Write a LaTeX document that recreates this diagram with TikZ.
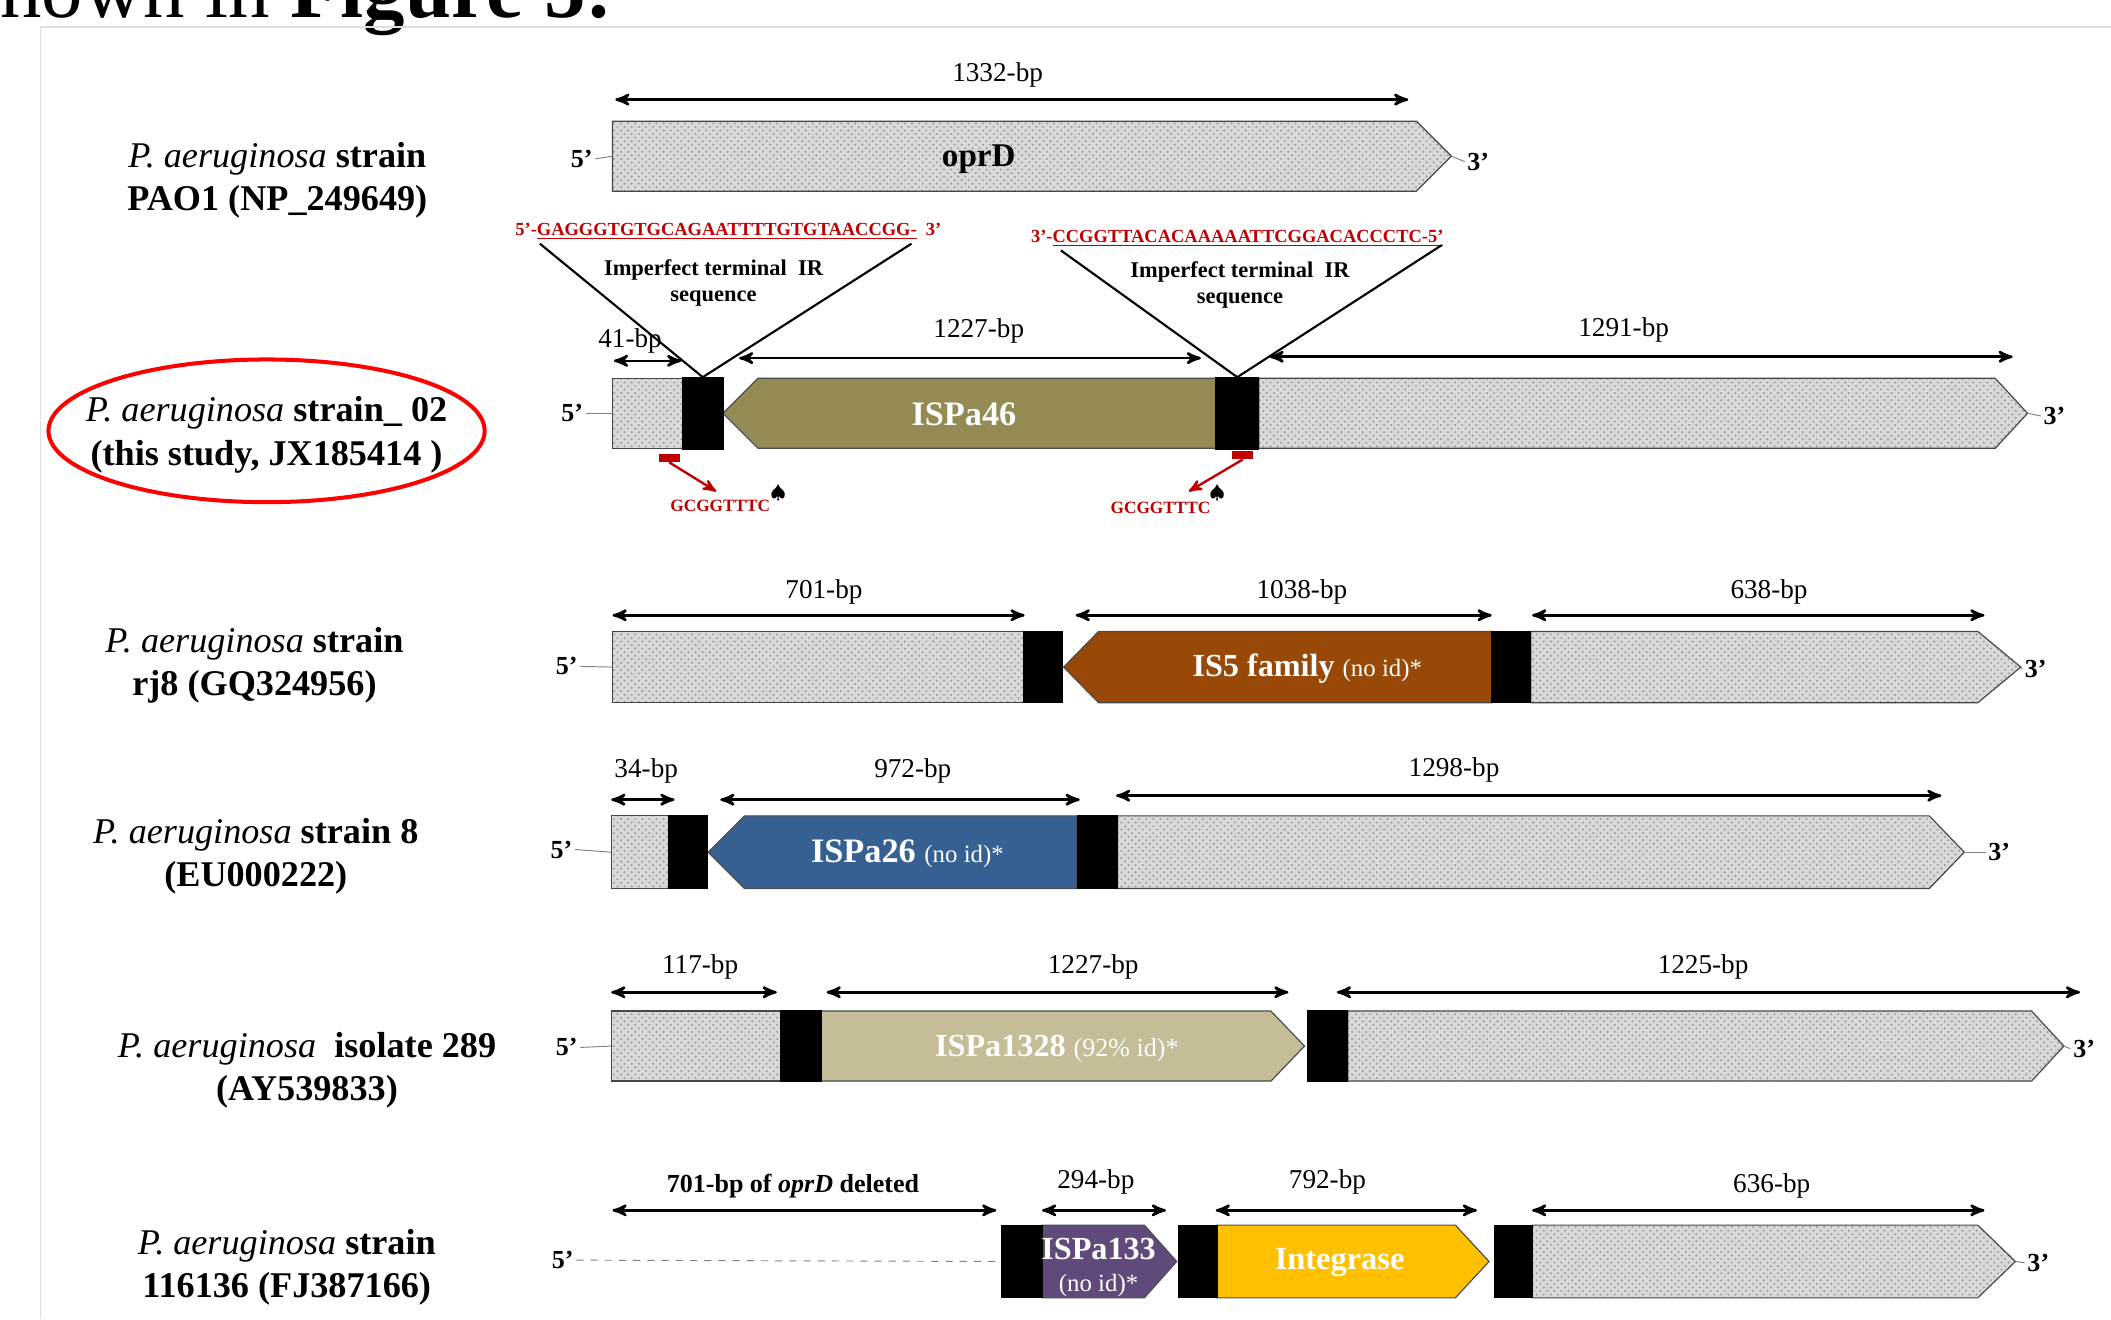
\documentclass[tikz,border=0pt]{standalone}
\usepackage{fontspec}
\setmainfont{Liberation Serif}
\usepackage{amssymb}
\usetikzlibrary{arrows,patterns,shapes.geometric}
\definecolor{isolive}{HTML}{948A54}
\definecolor{isbrown}{HTML}{984807}
\definecolor{isblue}{HTML}{366092}
\definecolor{istan}{HTML}{C4BD97}
\definecolor{ispurple}{HTML}{604A7B}
\definecolor{isyellow}{HTML}{FFC000}
\definecolor{seqred}{HTML}{C00000}

\begin{document}
\begin{tikzpicture}[x=0.2mm,y=-0.2mm,
  hatch/.style={draw=gray!55!black, line width=0.5pt, preaction={fill=gray!30}, pattern=crosshatch dots, pattern color=gray!75},
  isbox/.style={draw=black!70, line width=0.5pt},
  ir/.style={rectangle, fill=black, draw=black, inner sep=0pt, minimum width=6mm, minimum height=10.6mm},
  dim/.style={<->, >=stealth', line width=1.1pt},
  bp/.style={inner sep=1pt, font=\fontsize{11.5}{13}\selectfont},
  primeend/.style={inner sep=1pt, font=\fontsize{11}{13}\selectfont\bfseries},
  strain/.style={align=center, inner sep=1pt, font=\fontsize{15.3}{18.2}\selectfont},
  isname/.style={text=white, inner sep=1pt, font=\fontsize{14}{16}\selectfont\bfseries},
  seq/.style={text=seqred, inner sep=1pt, font=\fontsize{7.8}{9}\selectfont\bfseries},
  irtext/.style={align=center, inner sep=1pt, font=\fontsize{9.5}{11}\selectfont\bfseries},
  sitemark/.style={rectangle, fill=seqred, inner sep=0pt, minimum width=3.1mm, minimum height=1.2mm},
  site/.style={text=seqred, inner sep=1pt, font=\fontsize{7.3}{9}\selectfont\bfseries}]

\useasboundingbox (0,0) rectangle (1568,980);
\clip (0,0) rectangle (1568,980);

\node[anchor=base west, inner sep=0pt, font=\fontsize{35}{40}\selectfont] (title) at (0,13) {nown in \textbf{Figure 5:}};
\draw[gray!25, line width=0.6pt] (30,980) -- (30,20) -- (1568,20);

\node[strain] (n1) at (206,134) {\textit{P. aeruginosa} \textbf{strain}\\ \textbf{PAO1 (NP\_249649)}};
\node[strain] (n2) at (198,323) {\textit{P. aeruginosa} \textbf{strain\_ 02}\\ \textbf{(this study, JX185414 )}};
\draw[red, line width=1.7pt] (198,320) ellipse [x radius=32.4mm, y radius=10.6mm];
\node[strain] (n3) at (189,494) {\textit{P. aeruginosa} \textbf{strain}\\ \textbf{rj8 (GQ324956)}};
\node[strain] (n4) at (190,636) {\textit{P. aeruginosa} \textbf{strain 8}\\ \textbf{(EU000222)}};
\node[strain] (n5) at (228,795) {\textit{P. aeruginosa}\ \ \textbf{isolate 289}\\ \textbf{(AY539833)}};
\node[strain] (n6) at (213,941) {\textit{P. aeruginosa} \textbf{strain}\\ \textbf{116136 (FJ387166)}};

% PAO1
\draw[hatch] (455,90) -- (1052,90) -- (1078,116) -- (1052,142) -- (455,142) -- cycle;
\node[font=\fontsize{14}{16}\selectfont\bfseries] (oprd) at (727,118) {oprD};
\node[primeend] (f1) at (432,118) {5’};
\node[primeend] (t1) at (1098,120) {3’};
\draw[gray] (f1.east) -- (455,116);
\draw[gray] (1078,116) -- (t1.west);
\draw[dim] (457,74) -- (1046,74);
\node[bp] (l1) at (741,56) {1332-bp};

% strain_02
\draw[hatch] (455,281) rectangle (507,333);
\draw[isbox, fill=isolive] (537,307) -- (563,281) -- (903,281) -- (903,333) -- (563,333) -- cycle;
\draw[hatch] (935,281) -- (1482,281) -- (1506,307) -- (1482,333) -- (935,333) -- cycle;
\node[ir] (a1) at (522,307) {};
\node[ir, minimum width=6.4mm] (a2) at (919,307) {};
\node[isname, font=\fontsize{14.5}{16}\selectfont\bfseries] (is46) at (716,308) {ISPa46};
\node[primeend] (f2) at (425,307) {5’};
\node[primeend] (t2) at (1526,309) {3’};
\draw[gray] (f2.east) -- (455,307);
\draw[gray] (1506,307) -- (t2.west);
\draw[dim] (456,268) -- (506,268);
\node[bp] (l21) at (468,253) {41-bp};
\draw[dim] (549,266) -- (892,266);
\node[bp] (l22) at (727,246) {1227-bp};
\draw[dim] (943,265) -- (1495,265);
\node[bp] (l23) at (1206,245) {1291-bp};

\node[seq] (s1) at (541,172) {5’-\underline{GAGGGTGTGCAGAATTTTGTGTAACCGG-}\ \ 3’};
\node[seq] (s2) at (919,177) {3’-\underline{CCGGTTACACAAAAATTCGGACACCCTC-5’}};
\draw[line width=0.9pt] (401,181) -- (a1.north) -- (677,181);
\draw[line width=0.9pt] (788,186) -- (a2.north) -- (1071,182);
\node[irtext] (ir1) at (530,210) {Imperfect terminal\ \ IR\\ sequence};
\node[irtext] (ir2) at (921,212) {Imperfect terminal\ \ IR\\ sequence};

\node[sitemark] (m1) at (497,340) {};
\node[sitemark] (m2) at (923,338) {};
\node[site] (g1) at (535,376) {GCGGTTTC};
\node[site] (g2) at (862,377) {GCGGTTTC};
\node[inner sep=0pt, font=\fontsize{8}{9}\selectfont] (sp1) at (578,366) {$\spadesuit$};
\node[inner sep=0pt, font=\fontsize{8}{9}\selectfont] (sp2) at (904,366) {$\spadesuit$};
\coordinate (e1) at (532,365);
\coordinate (e2) at (883,365);
\draw[->, >=stealth', seqred, line width=1pt] (m1.south) -- (e1);
\draw[->, >=stealth', seqred, line width=1pt] (m2.south) -- (e2);

% rj8
\draw[hatch] (455,469) rectangle (761,522);
\draw[isbox, fill=isbrown] (790,495.5) -- (816,469) -- (1108,469) -- (1108,522) -- (816,522) -- cycle;
\draw[hatch] (1137,469) -- (1469,469) -- (1501,495.5) -- (1469,522) -- (1137,522) -- cycle;
\node[ir, minimum width=5.8mm] (b1) at (775,495.5) {};
\node[ir, minimum width=5.8mm] (b2) at (1122.5,495.5) {};
\node[isname] (is5) at (971,497) {\fontsize{13.6}{16}\selectfont IS5 family \fontsize{10.5}{12}\selectfont\mdseries(no id)*};
\node[primeend] (f3) at (421,495) {5’};
\node[primeend] (t3) at (1512,497) {3’};
\draw[gray] (f3.east) -- (455,495.5);
\draw[gray] (1501,495.5) -- (t3.west);
\draw[dim] (455,457) -- (761,457);
\node[bp] (l31) at (612,440) {701-bp};
\draw[dim] (799,457) -- (1108,457);
\node[bp] (l32) at (967,440) {1038-bp};
\draw[dim] (1138,457) -- (1474,457);
\node[bp] (l33) at (1314,440) {638-bp};

% strain 8
\draw[hatch] (454,606) rectangle (497,660);
\draw[isbox, fill=isblue] (526,633) -- (553,606) -- (800,606) -- (800,660) -- (553,660) -- cycle;
\draw[hatch] (830,606) -- (1433,606) -- (1459,633) -- (1433,660) -- (830,660) -- cycle;
\node[ir, minimum width=5.8mm, minimum height=10.8mm] (c1) at (511,633) {};
\node[ir, minimum height=10.8mm] (c2) at (815,633) {};
\node[isname] (is26) at (674,634) {\fontsize{14.5}{16}\selectfont ISPa26 \fontsize{10.5}{12}\selectfont\mdseries(no id)*};
\node[primeend] (f4) at (417,631) {5’};
\node[primeend] (t4) at (1485,633) {3’};
\draw[gray] (f4.east) -- (454,633);
\draw[gray] (1459,633) -- (t4.west);
\draw[dim] (454,594) -- (501,594);
\node[bp] (l41) at (480,573) {34-bp};
\draw[dim] (535,594) -- (802,594);
\node[bp] (l42) at (678,573) {972-bp};
\draw[dim] (829,591) -- (1442,591);
\node[bp] (l43) at (1080,572) {1298-bp};

% isolate 289
\draw[hatch] (454,751) rectangle (580,803);
\draw[isbox, fill=istan] (610,751) -- (944,751) -- (969,777) -- (944,803) -- (610,803) -- cycle;
\draw[hatch] (1001,751) -- (1509,751) -- (1533,777) -- (1509,803) -- (1001,803) -- cycle;
\node[ir] (d1) at (595,777) {};
\node[ir] (d2) at (986,777) {};
\node[isname] (is1328) at (785,779) {\fontsize{13.6}{16}\selectfont ISPa1328 \fontsize{11}{12}\selectfont\mdseries(92\% id)*};
\node[primeend] (f5) at (421,778) {5’};
\node[primeend] (t5) at (1548,779) {3’};
\draw[gray] (f5.east) -- (454,777);
\draw[gray] (1533,777) -- (t5.west);
\draw[dim] (454,737) -- (577,737);
\node[bp] (l51) at (520,718) {117-bp};
\draw[dim] (614,737) -- (957,737);
\node[bp] (l52) at (812,718) {1227-bp};
\draw[dim] (993,737) -- (1545,737);
\node[bp] (l53) at (1265,718) {1225-bp};

% 116136
\draw[isbox, fill=ispurple] (774,910) -- (850,910) -- (874,937) -- (850,964) -- (774,964) -- cycle;
\draw[isbox, fill=isyellow] (904,910) -- (1081,910) -- (1106,937) -- (1081,964) -- (904,964) -- cycle;
\draw[hatch] (1138,910) -- (1469,910) -- (1497,937) -- (1469,964) -- (1138,964) -- cycle;
\node[ir, minimum height=10.8mm] (k1) at (759,937) {};
\node[ir, minimum width=5.8mm, minimum height=10.8mm] (k2) at (890,937) {};
\node[ir, minimum width=5.6mm, minimum height=10.8mm] (k3) at (1124,937) {};
\node[isname, font=\fontsize{13.6}{16}\selectfont\bfseries] (is133) at (816,928) {ISPa133};
\node[text=white, inner sep=1pt, font=\fontsize{10.5}{12}\selectfont] (noid) at (816,955) {(no id)*};
\node[isname, font=\fontsize{13.7}{16}\selectfont\bfseries] (int) at (995,938) {Integrase};
\node[primeend] (f6) at (418,936) {5’};
\node[primeend] (t6) at (1514,938) {3’};
\draw[gray, dashed] (f6.east) -- (k1.west);
\draw[gray] (1497,937) -- (t6.west);
\draw[dim] (455,899) -- (740,899);
\node[bp, font=\fontsize{11}{13}\selectfont\bfseries] (l61) at (589,881) {701-bp of \textit{oprD} deleted};
\draw[dim] (774,899) -- (866,899);
\node[bp] (l62) at (814,878) {294-bp};
\draw[dim] (903,899) -- (1097,899);
\node[bp] (l63) at (986,878) {792-bp};
\draw[dim] (1138,899) -- (1474,899);
\node[bp] (l64) at (1316,881) {636-bp};
\end{tikzpicture}
\end{document}
